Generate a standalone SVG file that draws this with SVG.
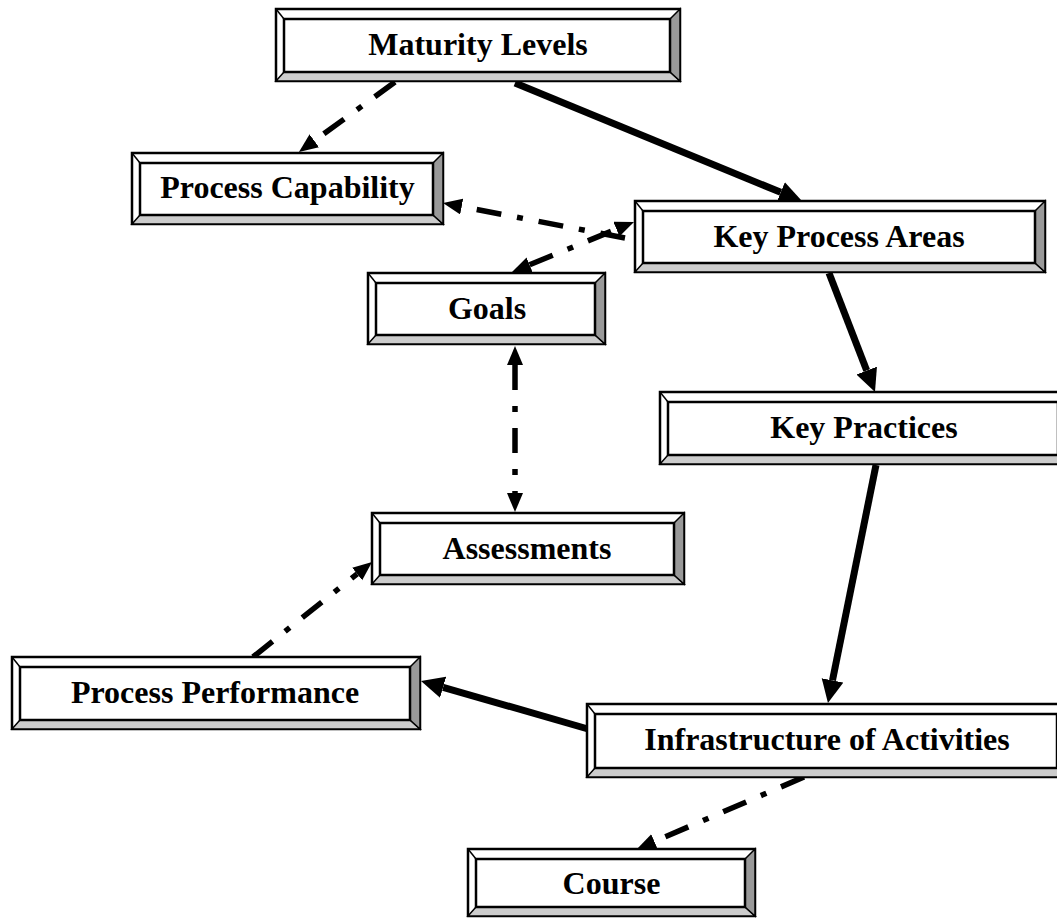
<svg xmlns="http://www.w3.org/2000/svg" width="1057" height="918" viewBox="0 0 1057 918">
  <style>
    .outer { fill: #ffffff; stroke: #000000; stroke-width: 2.5; }
    .inner { fill: #ffffff; stroke: #000000; stroke-width: 2.5; }
    .bev-b { fill: #cccccc; stroke: #000000; stroke-width: 1.5; stroke-linejoin: miter; }
    .bev-r { fill: #999999; stroke: #000000; stroke-width: 1.5; stroke-linejoin: miter; }
    .edge { stroke: #000000; stroke-width: 1.5; fill: none; }
    .label { font-family: "Liberation Serif", "Times New Roman", serif; font-weight: bold; font-size: 32px; fill: #000000; text-anchor: middle; }
    .solid { stroke: #000000; stroke-width: 7; fill: none; }
    .dashdot { stroke: #000000; stroke-width: 5.5; fill: none; stroke-dasharray: 25 16 6 16; }
  </style>
  <defs>
    <marker id="headBig" markerUnits="userSpaceOnUse" markerWidth="26" markerHeight="24" refX="0" refY="11" orient="auto">
      <path d="M0,0 L23,11 L0,22 Z" fill="#000000"/>
    </marker>
    <marker id="headSmall" markerUnits="userSpaceOnUse" markerWidth="21" markerHeight="18" refX="0" refY="8" orient="auto-start-reverse">
      <path d="M0,0 L19,8 L0,16 Z" fill="#000000"/>
    </marker>
  </defs>

  <!-- connectors -->
  <g id="connectors">
    <line class="dashdot" x1="395" y1="82" x2="314.3" y2="140.8" marker-end="url(#headSmall)"/>
    <line class="solid" x1="515" y1="83" x2="780.7" y2="192.3" marker-end="url(#headBig)"/>
    <line class="dashdot" x1="625" y1="238" x2="461.7" y2="206.6" marker-end="url(#headSmall)"/>
    <line class="dashdot" x1="529.6" y1="264.8" x2="616.4" y2="229.2" marker-start="url(#headSmall)" marker-end="url(#headSmall)"/>
    <line class="solid" x1="829" y1="273" x2="866.7" y2="370.6" marker-end="url(#headBig)"/>
    <line class="dashdot" x1="515" y1="365" x2="515" y2="493" marker-start="url(#headSmall)" marker-end="url(#headSmall)"/>
    <line class="solid" x1="876" y1="465" x2="832.5" y2="680.4" marker-end="url(#headBig)"/>
    <line class="solid" x1="588" y1="729" x2="443.1" y2="687.3" marker-end="url(#headBig)"/>
    <line class="dashdot" x1="253" y1="657" x2="357.2" y2="573.9" marker-end="url(#headSmall)"/>
    <line class="dashdot" x1="804" y1="777" x2="654.4" y2="841.5" marker-end="url(#headSmall)"/>
  </g>

  <!-- nodes: bevelled boxes -->
  <g id="maturity-levels" transform="translate(276,9)">
    <rect class="outer" x="0" y="0" width="404" height="72"/>
    <polygon class="bev-b" points="0,72 8,63 394,63 404,72"/>
    <polygon class="bev-r" points="404,0 394,10 394,63 404,72"/>
    <line class="edge" x1="0" y1="0" x2="8" y2="10"/>
    <rect class="inner" x="8" y="10" width="386" height="53"/>
    <text class="label" x="202" y="46">Maturity Levels</text>
  </g>

  <g id="process-capability" transform="translate(132,153)">
    <rect class="outer" x="0" y="0" width="311" height="71"/>
    <polygon class="bev-b" points="0,71 8,62 301,62 311,71"/>
    <polygon class="bev-r" points="311,0 301,10 301,62 311,71"/>
    <line class="edge" x1="0" y1="0" x2="8" y2="10"/>
    <rect class="inner" x="8" y="10" width="293" height="52"/>
    <text class="label" x="155.5" y="45">Process Capability</text>
  </g>

  <g id="key-process-areas" transform="translate(635,201)">
    <rect class="outer" x="0" y="0" width="410" height="71"/>
    <polygon class="bev-b" points="0,71 8,62 400,62 410,71"/>
    <polygon class="bev-r" points="410,0 400,10 400,62 410,71"/>
    <line class="edge" x1="0" y1="0" x2="8" y2="10"/>
    <rect class="inner" x="8" y="10" width="392" height="52"/>
    <text class="label" x="204" y="46">Key Process Areas</text>
  </g>

  <g id="goals" transform="translate(368,273)">
    <rect class="outer" x="0" y="0" width="237" height="71"/>
    <polygon class="bev-b" points="0,71 8,62 227,62 237,71"/>
    <polygon class="bev-r" points="237,0 227,10 227,62 237,71"/>
    <line class="edge" x1="0" y1="0" x2="8" y2="10"/>
    <rect class="inner" x="8" y="10" width="219" height="52"/>
    <text class="label" x="119" y="46">Goals</text>
  </g>

  <g id="key-practices" transform="translate(660,392)">
    <rect class="outer" x="0" y="0" width="408" height="72"/>
    <polygon class="bev-b" points="0,72 8,63 398,63 408,72"/>
    <polygon class="bev-r" points="408,0 398,10 398,63 408,72"/>
    <line class="edge" x1="0" y1="0" x2="8" y2="10"/>
    <rect class="inner" x="8" y="10" width="390" height="53"/>
    <text class="label" x="204" y="46">Key Practices</text>
  </g>

  <g id="assessments" transform="translate(372,513)">
    <rect class="outer" x="0" y="0" width="312" height="71"/>
    <polygon class="bev-b" points="0,71 8,62 302,62 312,71"/>
    <polygon class="bev-r" points="312,0 302,10 302,62 312,71"/>
    <line class="edge" x1="0" y1="0" x2="8" y2="10"/>
    <rect class="inner" x="8" y="10" width="294" height="52"/>
    <text class="label" x="155" y="46">Assessments</text>
  </g>

  <g id="process-performance" transform="translate(12,657)">
    <rect class="outer" x="0" y="0" width="408" height="72"/>
    <polygon class="bev-b" points="0,72 8,63 398,63 408,72"/>
    <polygon class="bev-r" points="408,0 398,10 398,63 408,72"/>
    <line class="edge" x1="0" y1="0" x2="8" y2="10"/>
    <rect class="inner" x="8" y="10" width="390" height="53"/>
    <text class="label" x="203" y="46">Process Performance</text>
  </g>

  <g id="infrastructure-of-activities" transform="translate(587,704)">
    <rect class="outer" x="0" y="0" width="480" height="73"/>
    <polygon class="bev-b" points="0,73 8,64 470,64 480,73"/>
    <polygon class="bev-r" points="480,0 470,10 470,64 480,73"/>
    <line class="edge" x1="0" y1="0" x2="8" y2="10"/>
    <rect class="inner" x="8" y="10" width="462" height="54"/>
    <text class="label" x="240" y="46">Infrastructure of Activities</text>
  </g>

  <g id="course" transform="translate(468,849)">
    <rect class="outer" x="0" y="0" width="287" height="67"/>
    <polygon class="bev-b" points="0,67 8,58 277,58 287,67"/>
    <polygon class="bev-r" points="287,0 277,10 277,58 287,67"/>
    <line class="edge" x1="0" y1="0" x2="8" y2="10"/>
    <rect class="inner" x="8" y="10" width="269" height="48"/>
    <text class="label" x="143.5" y="45">Course</text>
  </g>
</svg>
